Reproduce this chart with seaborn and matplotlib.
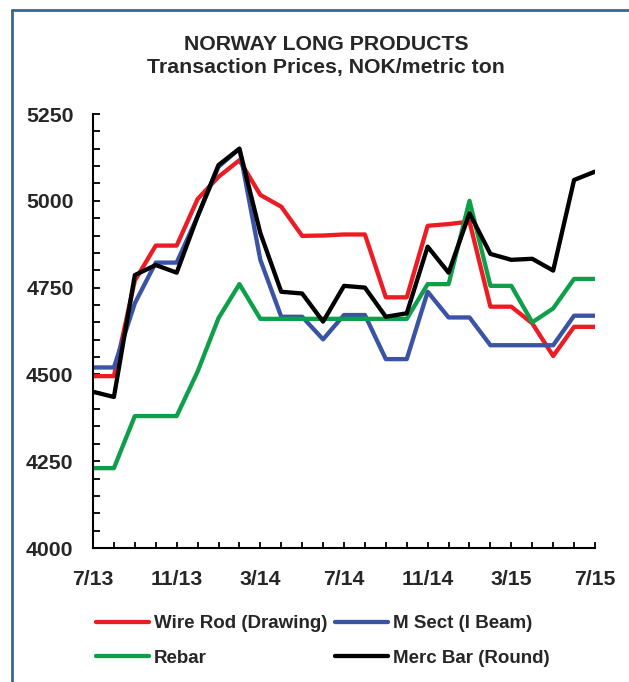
import numpy as np
import pandas as pd
import matplotlib.pyplot as plt
from matplotlib.lines import Line2D
from matplotlib.ticker import MultipleLocator
import seaborn as sns

# Bulan Jul 2013 .. Jul 2015 (25 titik)
month_labels = ["7/13", "11/13", "3/14", "7/14", "11/14", "3/15", "7/15"]
months = list(range(25))

wire_rod = [4495, 4495, 4770, 4871, 4871, 5005, 5069, 5117, 5017, 4983,
            4899, 4900, 4903, 4903, 4722, 4722, 4928, 4933, 4940, 4695,
            4695, 4647, 4553, 4637, 4637]
m_sect = [4520, 4520, 4705, 4822, 4822, 4955, 5098, 5150, 4830, 4666,
          4666, 4601, 4671, 4671, 4544, 4544, 4738, 4664, 4664, 4584,
          4584, 4584, 4584, 4669, 4669]
rebar = [4230, 4230, 4380, 4380, 4380, 4508, 4662, 4760, 4660, 4660,
         4660, 4660, 4660, 4660, 4660, 4660, 4760, 4760, 5000, 4755,
         4755, 4650, 4690, 4775, 4775]
merc_bar = [4450, 4435, 4786, 4815, 4793, 4955, 5103, 5150, 4907, 4738,
            4733, 4652, 4755, 4750, 4666, 4676, 4868, 4793, 4964, 4847,
            4830, 4833, 4799, 5060, 5084]

series_names = ["Wire Rod (Drawing)", "M Sect (I Beam)", "Rebar", "Merc Bar (Round)"]
series_colors = ["#ed1c24", "#3a53a4", "#0e9f4a", "#000000"]

df = pd.DataFrame({
    "month": months * 4,
    "price": wire_rod + m_sect + rebar + merc_bar,
    "series": np.repeat(series_names, len(months)),
})

sns.set_style("white")
plt.rcParams["font.family"] = ["Liberation Sans", "DejaVu Sans"]
plt.rcParams["font.weight"] = "bold"

fig = plt.figure(figsize=(6.29, 6.82), dpi=100)
ax = fig.add_axes([93 / 629, 1 - 548 / 682, (595 - 93) / 629, (548 - 114) / 682])

sns.lineplot(data=df, x="month", y="price", hue="series", hue_order=series_names,
             palette=series_colors, linewidth=3.1, ax=ax, legend=False)

ax.set_xlim(0, 24)
ax.set_ylim(4000, 5250)
ax.set_xlabel("")
ax.set_ylabel("")
ax.set_xticks(range(0, 25, 4))
ax.set_xticklabels(month_labels)
ax.xaxis.set_minor_locator(MultipleLocator(1))
ax.yaxis.set_major_locator(MultipleLocator(250))
ax.yaxis.set_minor_locator(MultipleLocator(50))
ax.tick_params(axis="both", which="both", direction="in", width=1.3, color="black")
ax.tick_params(axis="y", which="both", length=5, pad=14, labelsize=15.3)
ax.tick_params(axis="x", which="both", length=4, pad=16, labelsize=15.3)
ax.tick_params(left=True, bottom=True, which="both")
for lab in ax.get_xticklabels() + ax.get_yticklabels():
    lab.set_fontweight("bold")

sns.despine(ax=ax)
for s in ["left", "bottom"]:
    ax.spines[s].set_linewidth(1.5)
    ax.spines[s].set_color("black")

# Judul
fig.text(0.518, 1 - 45 / 682, "NORWAY LONG PRODUCTS", ha="center", va="center",
         fontsize=15.3, fontweight="bold")
fig.text(0.518, 1 - 68 / 682, "Transaction Prices, NOK/metric ton", ha="center",
         va="center", fontsize=15.3, fontweight="bold")

# Legenda di bawah, 2 kolom
handles = [Line2D([], [], color=c, linewidth=3.1) for c in series_colors]
order = [0, 2, 1, 3]
fig.legend([handles[i] for i in order], [series_names[i] for i in order],
           ncol=2, loc="center left", bbox_to_anchor=(96 / 629, 1 - 641 / 682),
           frameon=False, borderpad=0, borderaxespad=0, handlelength=2.8,
           handletextpad=0.3, columnspacing=0.4, labelspacing=0.95,
           prop={"size": 13.5, "weight": "bold"})

# Bingkai biru di kiri dan atas
frame_color = "#3b6491"
fig.add_artist(Line2D([11.5 / 629, 11.5 / 629], [0, 1 - 10 / 682],
                      color=frame_color, linewidth=2, transform=fig.transFigure))
fig.add_artist(Line2D([11.5 / 629, 1], [1 - 10 / 682, 1 - 10 / 682],
                      color=frame_color, linewidth=2, transform=fig.transFigure))

fig.savefig("out.png", dpi=100)
